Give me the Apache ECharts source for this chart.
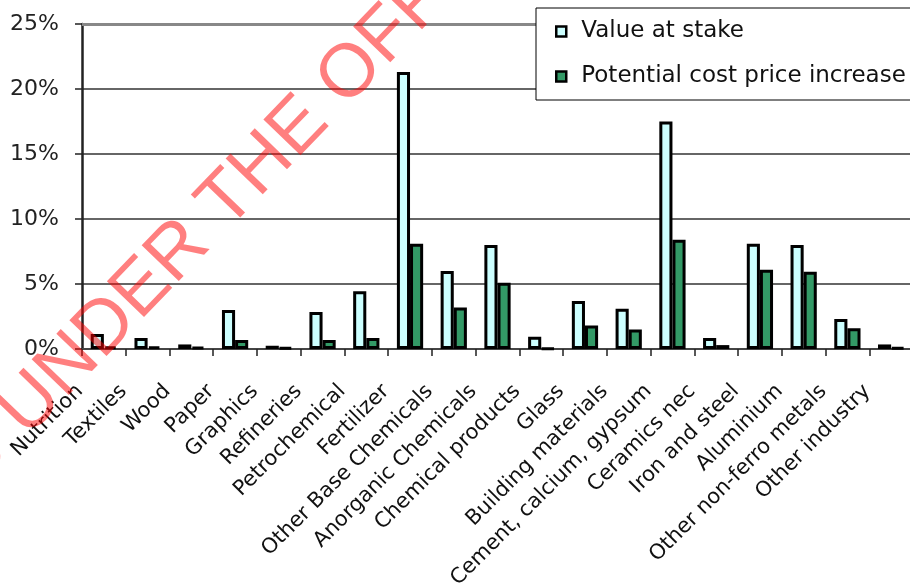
<!DOCTYPE html>
<html>
<head>
<meta charset="utf-8">
<script src="https://cdn.jsdelivr.net/npm/echarts@6/dist/echarts.min.js"></script>
<style>
html,body{margin:0;padding:0;background:#fff;}
#chart{width:910px;height:584px;}
</style>
</head>
<body>
<div id="chart"></div>
<script>
const categories = ['Nutrition','Textiles','Wood','Paper','Graphics','Refineries','Petrochemical','Fertilizer','Other Base Chemicals','Anorganic Chemicals','Chemical products','Glass','Building materials','Cement, calcium, gypsum','Ceramics nec','Iron and steel','Aluminium','Other non-ferro metals','Other industry'];
const valueAtStake = [1.15,0.85,0.35,3.0,0.25,2.85,4.45,21.3,6.0,8.0,0.95,3.7,3.1,17.5,0.85,8.1,8.0,2.3,0.35];
const costIncrease = [0.2,0.2,0.15,0.7,0.1,0.7,0.85,8.1,3.2,5.1,0.05,1.8,1.5,8.4,0.3,6.1,5.95,1.6,0.1];
const seriesNames = ['Value at stake','Potential cost price increase'];
const yTicks = {min:0, max:25, interval:5};
const watermark = 'D UNDER THE OFFI';

const chart = echarts.init(document.getElementById('chart'), null, {renderer:'canvas'});
const FONT = '"DejaVu Sans", sans-serif';
const barBase = {type:'bar', barGap:'0%', barCategoryGap:'40%'};
chart.setOption({
  animation:false,
  backgroundColor:'#ffffff',
  grid:{left:82, top:24, right:-3, bottom:235, containLabel:false, outerBoundsMode:'none'},
  legend:{
    z:20,
    orient:'vertical', left:536, top:8,
    padding:[12,12,12,19], itemGap:22,
    itemWidth:10, itemHeight:10, icon:'rect',
    backgroundColor:'#ffffff', borderColor:'#000', borderWidth:1,
    itemStyle:{borderColor:'#000', borderWidth:2.5},
    textStyle:{fontFamily:FONT, fontSize:23, color:'#111', lineHeight:23, padding:[0,0,0,10]},
    data:seriesNames
  },
  xAxis:{
    type:'category', data:categories,
    axisLine:{lineStyle:{color:'#444', width:2}},
    axisTick:{show:true, alignWithLabel:false, length:7, lineStyle:{color:'#222', width:1.5}},
    axisLabel:{interval:0, rotate:45, fontFamily:FONT, fontSize:21, color:'#111', margin:15, padding:[0,34,0,0]}
  },
  yAxis:{
    type:'value', min:yTicks.min, max:yTicks.max, interval:yTicks.interval,
    axisLine:{show:true, lineStyle:{color:'#222', width:2.5}},
    axisTick:{show:true, length:7, lineStyle:{color:'#222', width:1.5}},
    axisLabel:{formatter:'{value}%', fontFamily:FONT, fontSize:22, color:'#222', margin:23},
    splitLine:{show:true, lineStyle:{color:'#333', width:1.5}}
  },
  series:[
    Object.assign({}, barBase, {
      name:seriesNames[0], data:valueAtStake,
      itemStyle:{color:'#ccffff', borderColor:'#000', borderWidth:3},
      markLine:{silent:true, symbol:'none', label:{show:false},
        lineStyle:{color:'#888', width:3, type:'solid'}, data:[{yAxis:25}]}
    }),
    Object.assign({}, barBase, {
      name:seriesNames[1], data:costIncrease,
      itemStyle:{color:'#339966', borderColor:'#000', borderWidth:3}
    })
  ],
  graphic:[{
    type:'text', x:-40, y:478, rotation:46*Math.PI/180, z:100, silent:true,
    style:{text:watermark, font:'75px "Liberation Sans", Arial, sans-serif', fill:'rgba(255,0,0,0.5)', textAlign:'left', textVerticalAlign:'middle'}
  }]
});
</script>
</body>
</html>
